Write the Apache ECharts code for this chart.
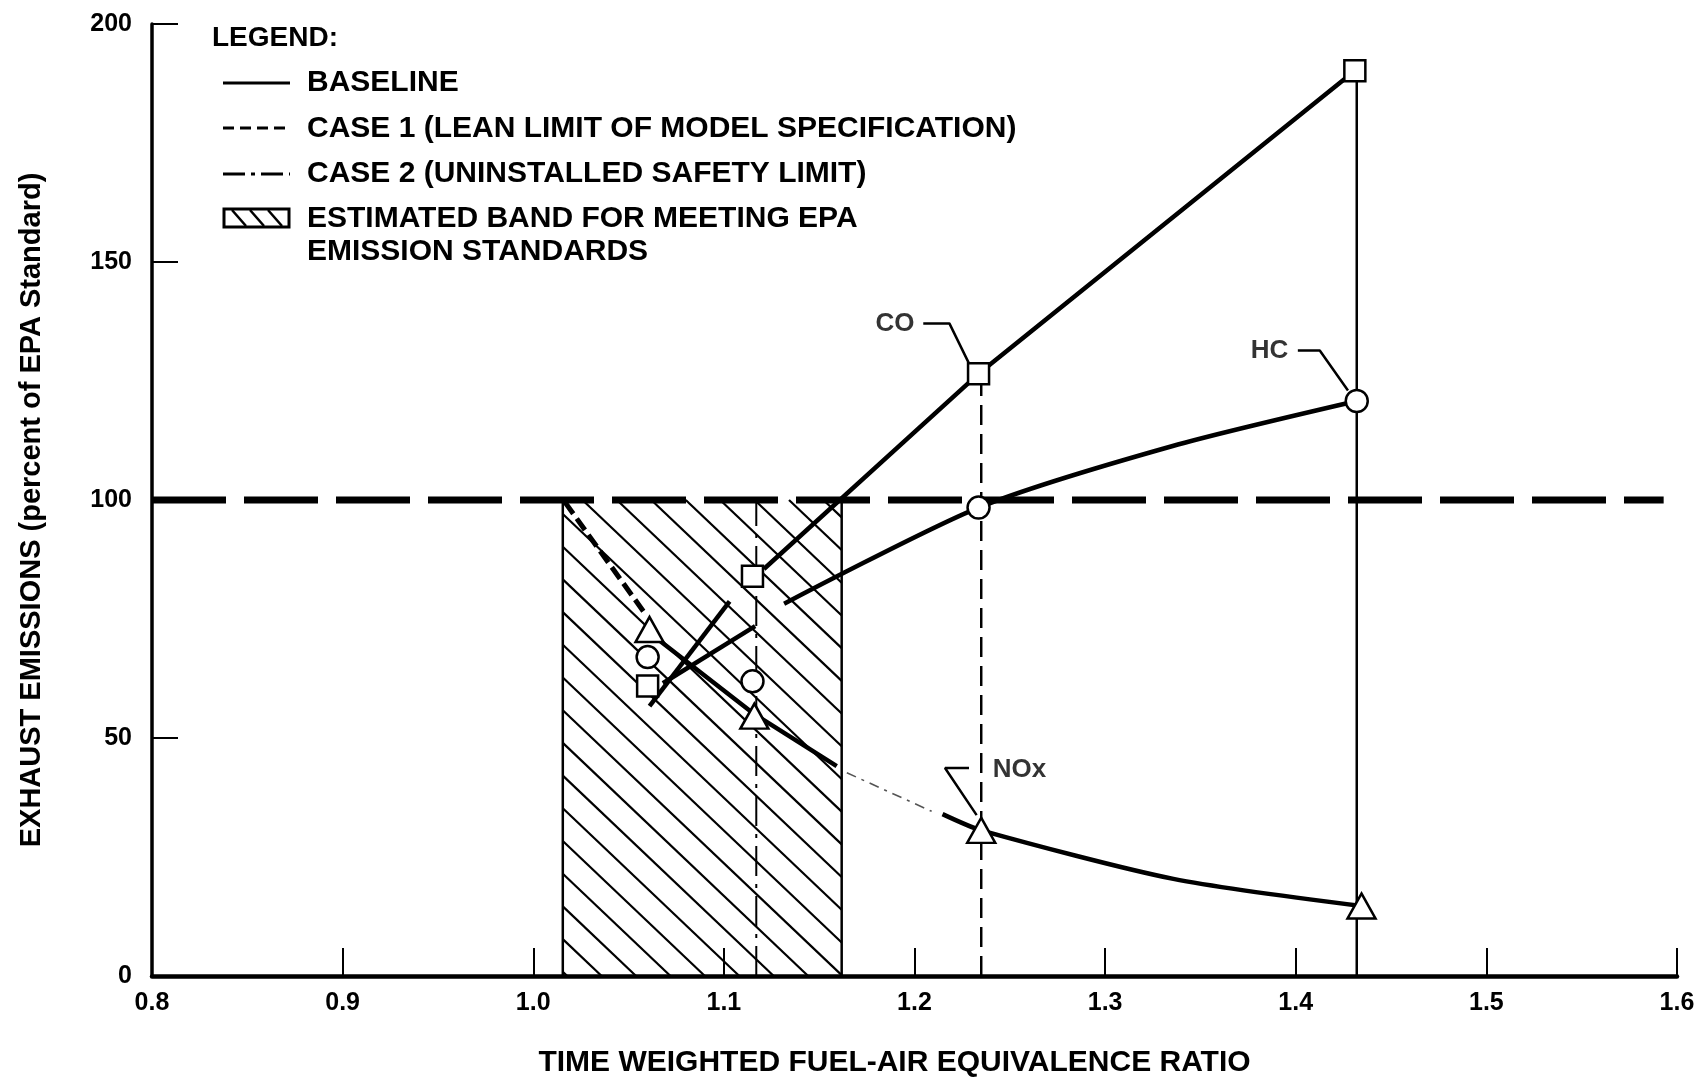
<!DOCTYPE html>
<html>
<head>
<meta charset="utf-8">
<script src="https://cdn.jsdelivr.net/npm/echarts@6/dist/echarts.min.js"></script>
<style>
html,body{margin:0;padding:0;background:#fff;}
#chart{width:1708px;height:1083px;}
</style>
</head>
<body>
<div id="chart"></div>
<script>
// ---------- axis ticks ----------
const xTicks = [0.8, 0.9, 1.0, 1.1, 1.2, 1.3, 1.4, 1.5, 1.6];
const yTicks = [0, 50, 100, 150, 200];

// ---------- EPA standard line & band ----------
const epaLine = [[0.8, 100], [1.593, 100]];
const bandX = [1.0155, 1.1618];
const bandY = [0, 100];

// ---------- markers ----------
const coMarkers  = [[1.060, 60.9], [1.115, 84.0], [1.2336, 126.5], [1.431, 190.2]];
const hcMarkers  = [[1.060, 67.0], [1.115, 61.9], [1.2336, 98.4], [1.432, 120.8]];
const noxMarkers = [[1.061, 72.8], [1.116, 54.6], [1.2350, 30.6], [1.4345, 14.7]];

// ---------- curves ----------
const coLineA  = [[1.061, 56.7], [1.103, 78.7]];
const coLineB  = [[1.121, 85.5], [1.2336, 126.5], [1.431, 190.2]];
const hcLineA  = [[1.068, 61.5], [1.1164, 73.5]];
const hcLineB  = [[1.1316, 78.2], [1.2336, 98.4], [1.335, 111.3], [1.432, 120.8]];
const noxCase1 = [[1.0167, 99.5], [1.058, 76.5]];
const noxLineA = [[1.063, 71.5], [1.116, 55.0], [1.1592, 44.1]];
const noxFaint = [[1.1645, 42.7], [1.209, 34.6]];
const noxLineB = [[1.2147, 34.0], [1.2350, 30.6], [1.3358, 20.4], [1.4345, 14.7]];

// ---------- vertical reference lines ----------
const case2V    = [[1.117, 0], [1.117, 100]];
const case1V    = [[1.235, 0], [1.235, 124.3]];
const baselineV = [[1.432, 0], [1.432, 188.0]];

// ---------- annotations ----------
const annoNames = ['CO', 'HC', 'NOx'];
const annoPos   = [[1.2011, 137.1], [1.3971, 131.4], [1.240, 43.4]];
const annoSide  = ['left', 'left', 'right'];
const coLeader  = [[1.2046, 137.1], [1.2183, 137.1], [1.2287, 128.6]];
const hcLeader  = [[1.4011, 131.4], [1.4126, 131.4], [1.4274, 123.0]];
const noxLeader = [[1.2286, 43.7], [1.2160, 43.7], [1.2326, 33.8]];

// ---------- legend texts ----------
const legendTitle = 'LEGEND:';
const legendItems = [
  'BASELINE',
  'CASE 1 (LEAN LIMIT OF MODEL SPECIFICATION)',
  'CASE 2 (UNINSTALLED SAFETY LIMIT)',
  'ESTIMATED BAND FOR MEETING EPA',
  'EMISSION STANDARDS'
];
const xTitle = 'TIME WEIGHTED FUEL-AIR EQUIVALENCE RATIO';
const yTitle = 'EXHAUST EMISSIONS (percent of EPA Standard)';

const FONT = "'Liberation Sans', Arial, Helvetica, sans-serif";

function ln(name, data, width, type, extra) {
  return Object.assign({
    name: name, type: 'line', data: data, symbol: 'none', silent: true,
    lineStyle: { color: '#000', width: width, type: type || 'solid', cap: 'butt' },
    z: 3
  }, extra || {});
}
function mk(name, data, symbol, size) {
  return {
    name: name, type: 'scatter', data: data, symbol: symbol, symbolSize: size, silent: true,
    itemStyle: { color: '#fff', borderColor: '#000', borderWidth: 2.5, opacity: 1 },
    z: 6
  };
}
function legendText(text, y) {
  return { type: 'text', x: 307, y: y,
           style: { text: text, fill: '#000', font: "bold 30px " + FONT, verticalAlign: 'middle', align: 'left' } };
}

const chart = echarts.init(document.getElementById('chart'), null, { renderer: 'canvas' });

const option = {
  animation: false,
  backgroundColor: '#fff',
  grid: { left: 152, right: 31, top: 24, bottom: 106, containLabel: false },
  xAxis: {
    type: 'value',
    min: xTicks[0], max: xTicks[xTicks.length - 1], interval: 0.1,
    axisLine: { show: true, onZero: false, lineStyle: { color: '#000', width: 4.5 } },
    axisTick: { show: true, inside: true, length: 28, lineStyle: { color: '#000', width: 2 } },
    splitLine: { show: false },
    axisLabel: {
      color: '#000', fontSize: 25, fontWeight: 'bold', fontFamily: FONT, margin: 15,
      formatter: v => v.toFixed(1)
    },
    name: xTitle, nameLocation: 'middle', nameGap: 72,
    nameTextStyle: { color: '#000', fontSize: 30, fontWeight: 'bold', fontFamily: FONT, padding: [0, 40, 0, 0] }
  },
  yAxis: {
    type: 'value',
    min: yTicks[0], max: yTicks[yTicks.length - 1], interval: 50,
    axisLine: { show: true, onZero: false, lineStyle: { color: '#000', width: 3.5 } },
    axisTick: { show: true, inside: true, length: 26, lineStyle: { color: '#000', width: 2 } },
    splitLine: { show: false },
    axisLabel: {
      color: '#000', fontSize: 25, fontWeight: 'bold', fontFamily: FONT, margin: 20
    },
    name: yTitle, nameLocation: 'middle', nameRotate: 90, nameGap: 106,
    nameTextStyle: { color: '#000', fontSize: 29, fontWeight: 'bold', fontFamily: FONT, padding: [0, 20, 0, 0] }
  },
  series: [
    {
      name: 'band', type: 'custom', silent: true, z: 1,
      data: [[bandX[0], bandX[1], bandY[0], bandY[1]]],
      encode: { x: [0, 1], y: [2, 3] },
      renderItem: function (params, api) {
        const tl = api.coord([api.value(0), api.value(3)]);
        const br = api.coord([api.value(1), api.value(2)]);
        const L = tl[0], T = tl[1], R = br[0], B = br[1];
        const s = 0.95, step = 32.7;
        const a0 = T + 14;
        const children = [];
        const kmin = Math.floor(-(R - L) * s / step) - 2;
        const kmax = Math.ceil((B - T) / step) + 2;
        for (let k = kmin; k <= kmax; k++) {
          const a = a0 + k * step;
          const xs = Math.max(L, L + (T - a) / s);
          const xe = Math.min(R, L + (B - a) / s);
          if (xe - xs > 1) {
            children.push({
              type: 'line',
              shape: { x1: xs, y1: a + s * (xs - L), x2: xe, y2: a + s * (xe - L) },
              style: { stroke: '#000', lineWidth: 2.2 }
            });
          }
        }
        children.push({ type: 'line', shape: { x1: L, y1: T, x2: L, y2: B }, style: { stroke: '#000', lineWidth: 2.5 } });
        children.push({ type: 'line', shape: { x1: R, y1: T, x2: R, y2: B }, style: { stroke: '#000', lineWidth: 2.5 } });
        return { type: 'group', children: children };
      }
    },
    ln('EPA standard', epaLine, 7, [74, 18], { z: 4 }),
    ln('Case 2 limit', case2V, 2, [30, 8, 4, 8]),
    ln('Case 1 limit', case1V, 2.5, [20, 9]),
    ln('Baseline limit', baselineV, 2.5, 'solid'),
    ln('CO baseline A', coLineA, 4.5, 'solid'),
    ln('CO baseline B', coLineB, 4.5, 'solid'),
    ln('HC baseline A', hcLineA, 4.5, 'solid'),
    ln('HC baseline B', hcLineB, 4.5, 'solid', { smooth: 0.25 }),
    ln('NOx case 1', noxCase1, 5, [14, 6]),
    ln('NOx A', noxLineA, 4.5, 'solid'),
    ln('NOx faint', noxFaint, 1.6, [10, 6, 3, 6], { lineStyle: { color: '#555', width: 1.6, type: [10, 6, 3, 6] } }),
    ln('NOx B', noxLineB, 4.5, 'solid', { smooth: 0.25 }),
    ln('CO leader', coLeader, 2.5, 'solid'),
    ln('HC leader', hcLeader, 2.5, 'solid'),
    ln('NOx leader', noxLeader, 2.5, 'solid'),
    mk('CO', coMarkers, 'rect', 21),
    mk('HC', hcMarkers, 'circle', 22),
    mk('NOx', noxMarkers, 'triangle', [28, 25]),
    {
      name: 'labels', type: 'scatter', silent: true, symbolSize: 0, z: 7,
      data: annoNames.map((n, i) => ({
        name: n, value: annoPos[i],
        label: { show: true, position: annoSide[i], distance: 2, formatter: n,
                 color: '#000', fontSize: 26, fontWeight: 'bold', fontFamily: FONT }
      }))
    }
  ],
  graphic: [
    { type: 'text', x: 212, y: 38, style: { text: legendTitle, fill: '#000', font: "bold 28px " + FONT, verticalAlign: 'middle' } },
    // baseline sample
    { type: 'line', shape: { x1: 223, y1: 83, x2: 290, y2: 83 }, style: { stroke: '#000', lineWidth: 3 } },
    // case 1 sample
    { type: 'line', shape: { x1: 223, y1: 128, x2: 290, y2: 128 }, style: { stroke: '#000', lineWidth: 3, lineDash: [11, 6] } },
    // case 2 sample
    { type: 'line', shape: { x1: 223, y1: 174, x2: 290, y2: 174 }, style: { stroke: '#000', lineWidth: 3, lineDash: [22, 6, 4, 6] } },
    // band sample
    { type: 'rect', shape: { x: 224, y: 209, width: 65, height: 18 }, style: { stroke: '#000', fill: '#fff', lineWidth: 3 } },
    { type: 'line', shape: { x1: 232, y1: 210, x2: 246, y2: 226 }, style: { stroke: '#000', lineWidth: 2.5 } },
    { type: 'line', shape: { x1: 250, y1: 210, x2: 264, y2: 226 }, style: { stroke: '#000', lineWidth: 2.5 } },
    { type: 'line', shape: { x1: 268, y1: 210, x2: 282, y2: 226 }, style: { stroke: '#000', lineWidth: 2.5 } },
    legendText(legendItems[0], 83),
    legendText(legendItems[1], 129),
    legendText(legendItems[2], 174),
    legendText(legendItems[3], 219),
    legendText(legendItems[4], 252)
  ]
};
chart.setOption(option);
</script>
</body>
</html>
